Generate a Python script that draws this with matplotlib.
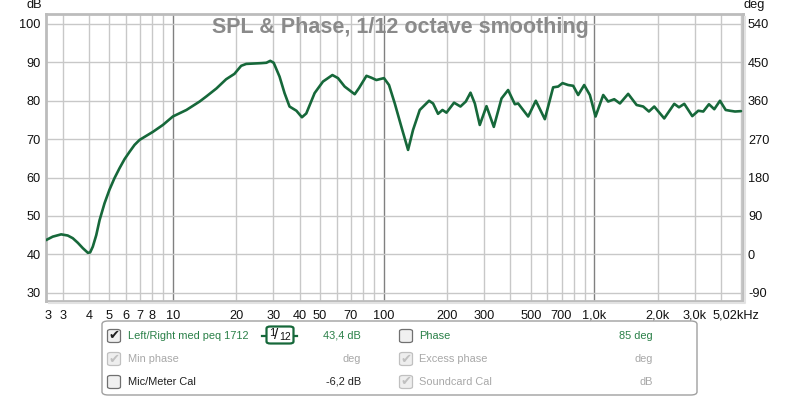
import matplotlib
matplotlib.use("Agg")
import matplotlib.pyplot as plt
from matplotlib.patches import FancyBboxPatch
from matplotlib.transforms import ScaledTranslation

# ---- data (frequency in Hz, SPL in dB) ----
freq_hz = [2.50, 2.69, 2.95, 3.17, 3.35, 3.54, 3.74, 3.95, 4.05, 4.17, 4.33, 4.49, 4.74,
           5.00, 5.28, 5.58, 5.90, 6.23, 6.58, 6.95, 8.04, 8.97,
           10.0, 11.6, 13.4, 14.4, 16.1, 17.9, 19.6, 21.1, 22.3, 26.3, 27.8, 29.0, 30.1,
           32.1, 33.9, 35.8, 38.6, 41.0, 43.0, 47.1, 51.6, 57.2, 60.8, 65.4, 73.0, 76.5,
           83.0, 87.6, 92.5, 100.5, 106.2, 113.1, 121.6, 130.8, 138.1, 148.6, 164.5, 171.9,
           181.5, 190.5, 199.0, 216.2, 231.9, 245.8, 258.8, 271.3, 286.4, 308.2, 333.9,
           363.2, 390.3, 420.2, 435.5, 485.9, 528.4, 583.2, 638.6, 674.5, 707.7, 752.4,
           794.9, 839.5, 896.5, 954.0, 1015, 1104, 1165, 1245, 1325, 1450, 1590, 1709,
           1819, 1928, 2150, 2399, 2526, 2677, 2922, 3120, 3295, 3506, 3716, 3955, 4210,
           4412, 4661, 4977]
spl_db = [43.7, 44.6, 45.2, 44.9, 44.2, 43.0, 41.6, 40.4, 40.5, 42.0, 45.0, 48.9, 53.3,
          56.8, 59.8, 62.4, 64.8, 66.7, 68.5, 69.8, 71.9, 73.7,
          75.9, 77.6, 79.8, 81.1, 83.2, 85.6, 87.0, 89.1, 89.6, 89.8, 89.9, 90.4, 89.9,
          86.3, 82.0, 78.5, 77.4, 75.7, 76.7, 82.0, 85.0, 86.7, 85.9, 83.7, 81.7, 83.3,
          86.5, 86.0, 85.4, 85.9, 84.1, 79.3, 73.2, 67.2, 72.4, 77.6, 80.0, 79.3,
          76.6, 77.6, 76.9, 79.5, 78.5, 79.8, 82.1, 79.3, 73.7, 78.6, 73.2,
          80.6, 82.8, 79.1, 79.3, 75.9, 80.0, 75.2, 83.5, 83.7, 84.6, 84.1,
          83.9, 81.5, 84.1, 81.5, 75.9, 81.5, 79.8, 80.4, 79.3, 81.8, 78.9, 78.5,
          77.2, 78.5, 75.4, 79.2, 78.3, 79.2, 76.0, 77.4, 77.2, 79.1, 77.8, 80.0, 77.6,
          77.4, 77.2, 77.3]

x_ticks = [2.55, 3, 4, 5, 6, 7, 8, 10, 20, 30, 40, 50, 70, 100, 200, 300, 500, 700,
           1000, 2000, 3000, 5020]
x_labels = ["3", "3", "4", "5", "6", "7", "8", "10", "20", "30", "40", "50", "70", "100",
            "200", "300", "500", "700", "1,0k", "2,0k", "3,0k", "5,02kHz"]
db_ticks = [30, 40, 50, 60, 70, 80, 90, 100]
deg_ticks = [-90, 0, 90, 180, 270, 360, 450, 540]

FONT = "Liberation Sans"
GREEN = "#16683a"
TXT_GREEN = "#2a8048"
GRAY_TXT = "#a8a8a8"
LEG_FS = 7.9

plt.rcParams["font.family"] = [FONT, "DejaVu Sans"]
plt.rcParams["axes.unicode_minus"] = False

W, H = 800, 396
fig = plt.figure(figsize=(W / 100, H / 100), dpi=100)
fig.patch.set_facecolor("white")

left, right, top, bottom = 46, 742.7, 14, 300.7
ax = fig.add_axes([left / W, (H - bottom) / H, (right - left) / W, (bottom - top) / H])

y_lo, y_hi = 27.92, 102.6
ax.set_xscale("log")
ax.set_xlim(2.5, 5070)
ax.set_ylim(y_lo, y_hi)

# grid: every 1..9 per decade, decades darker
for dec in [1, 10, 100, 1000]:
    for m in range(1, 10):
        f = dec * m
        if f < 2.5 or f > 5070:
            continue
        if m == 1:
            ax.axvline(f, color="#808080", lw=1.0, zorder=1)
        else:
            ax.axvline(f, color="#c8c8c8", lw=1.0, zorder=1)
for v in db_ticks:
    ax.axhline(v, color="#c8c8c8", lw=1.0, zorder=1)

ax.plot(freq_hz, spl_db, color=GREEN, lw=1.9, solid_joinstyle="round",
        solid_capstyle="round", zorder=3)

for s in ax.spines.values():
    s.set_color("#bcbcbc")
    s.set_linewidth(2.0)

# soft shadow along the right and bottom of the frame
fig.lines.append(plt.Line2D([(left + 3) / W, (right + 2) / W, (right + 2) / W],
                            [(H - bottom - 2) / H, (H - bottom - 2) / H, (H - top - 3) / H],
                            transform=fig.transFigure, color="#e2e2e2", lw=1.5, zorder=0))

ax.set_xticks(x_ticks)
ax.set_xticklabels(x_labels)
ax.xaxis.set_minor_locator(matplotlib.ticker.NullLocator())
ax.set_yticks(db_ticks)
ax.tick_params(axis="both", length=0, labelsize=9.2, colors="#111111")
ax.tick_params(axis="x", pad=6.5)
ax.tick_params(axis="y", pad=3.8)
# nudge last x label left like the reference
lbls = ax.get_xticklabels()
lbls[-1].set_transform(lbls[-1].get_transform() + ScaledTranslation(-6 / 100, 0, fig.dpi_scale_trans))

ax2 = ax.twinx()
ax2.set_ylim((y_lo - 40) * 9, (y_hi - 40) * 9)
ax2.set_yticks(deg_ticks)
ax2.tick_params(axis="y", length=0, labelsize=9.2, pad=3.8, colors="#111111")
for s in ax2.spines.values():
    s.set_visible(False)

fig.text(42 / W, (H - 5) / H, "dB", ha="right", va="center", fontsize=9.2, color="#111111")
fig.text(744 / W, (H - 5) / H, "deg", ha="left", va="center", fontsize=9.2, color="#111111")

fig.text(400 / W, (H - 33) / H, "SPL & Phase, 1/12 octave smoothing", ha="center",
         va="baseline", fontsize=15.5, fontweight="bold", color="#8a8a8a")

# ---- legend panel ----
box = FancyBboxPatch((102 / W, (H - 395) / H), (697 - 102) / W, (395 - 321) / H,
                     boxstyle="round,pad=0,rounding_size=0.008", transform=fig.transFigure,
                     facecolor="white", edgecolor="#a0a0a0", lw=1.0)
fig.patches.append(box)

rows_y = [336, 359, 382]


def checkbox(x, y, checked, enabled):
    sz = 13
    cb = FancyBboxPatch(((x) / W, (H - y - sz / 2) / H), sz / W, sz / H,
                        boxstyle="round,pad=0,rounding_size=0.004", transform=fig.transFigure,
                        facecolor="#f0f0f0" if enabled else "#eeeeee",
                        edgecolor="#707070" if enabled else "#c0c0c0", lw=0.9)
    fig.patches.append(cb)
    if checked:
        fig.text((x + sz / 2) / W, (H - y) / H, "\u2714", ha="center", va="center",
                 fontsize=9.5, family="DejaVu Sans",
                 color="#202020" if enabled else "#c0c0c0")


col1 = [("Left/Right med peq 1712", TXT_GREEN, True, True, "43,4 dB", TXT_GREEN),
        ("Min phase", GRAY_TXT, True, False, "deg", GRAY_TXT),
        ("Mic/Meter Cal", "#202020", False, True, "-6,2 dB", "#202020")]
col2 = [("Phase", TXT_GREEN, False, True, "85 deg", TXT_GREEN),
        ("Excess phase", GRAY_TXT, True, False, "deg", GRAY_TXT),
        ("Soundcard Cal", GRAY_TXT, True, False, "dB", GRAY_TXT)]

for (lab, c, chk, en, val, vc), y in zip(col1, rows_y):
    checkbox(107.5, y, chk, en)
    fig.text(128.3 / W, (H - y) / H, lab, ha="left", va="center", fontsize=LEG_FS, color=c)
    fig.text(361 / W, (H - y) / H, val, ha="right", va="center", fontsize=LEG_FS, color=vc)
for (lab, c, chk, en, val, vc), y in zip(col2, rows_y):
    checkbox(399.5, y, chk, en)
    fig.text(419.3 / W, (H - y) / H, lab, ha="left", va="center", fontsize=LEG_FS, color=c)
    fig.text(653 / W, (H - y) / H, val, ha="right", va="center", fontsize=LEG_FS, color=vc)

# smoothing badge "1/12"
y0 = rows_y[0]
fig.lines.append(plt.Line2D([262 / W, 297 / W], [(H - y0) / H] * 2, transform=fig.transFigure,
                            color=GREEN, lw=1.6))
badge = FancyBboxPatch((266.5 / W, (H - 343.5) / H), 27 / W, 17 / H,
                       boxstyle="round,pad=0,rounding_size=0.005", transform=fig.transFigure,
                       facecolor="white", edgecolor=GREEN, lw=1.6, zorder=3)
fig.patches.append(badge)
fig.text(272.5 / W, (H - 332.5) / H, "1", ha="center", va="center", fontsize=8, color="#111111", zorder=4)
fig.text(276.5 / W, (H - 335) / H, "/", ha="center", va="center", fontsize=11, color="#111111", zorder=4)
fig.text(285 / W, (H - 337.5) / H, "12", ha="center", va="center", fontsize=7.5, color="#111111", zorder=4)

fig.savefig("out.png", dpi=100, facecolor="white")
